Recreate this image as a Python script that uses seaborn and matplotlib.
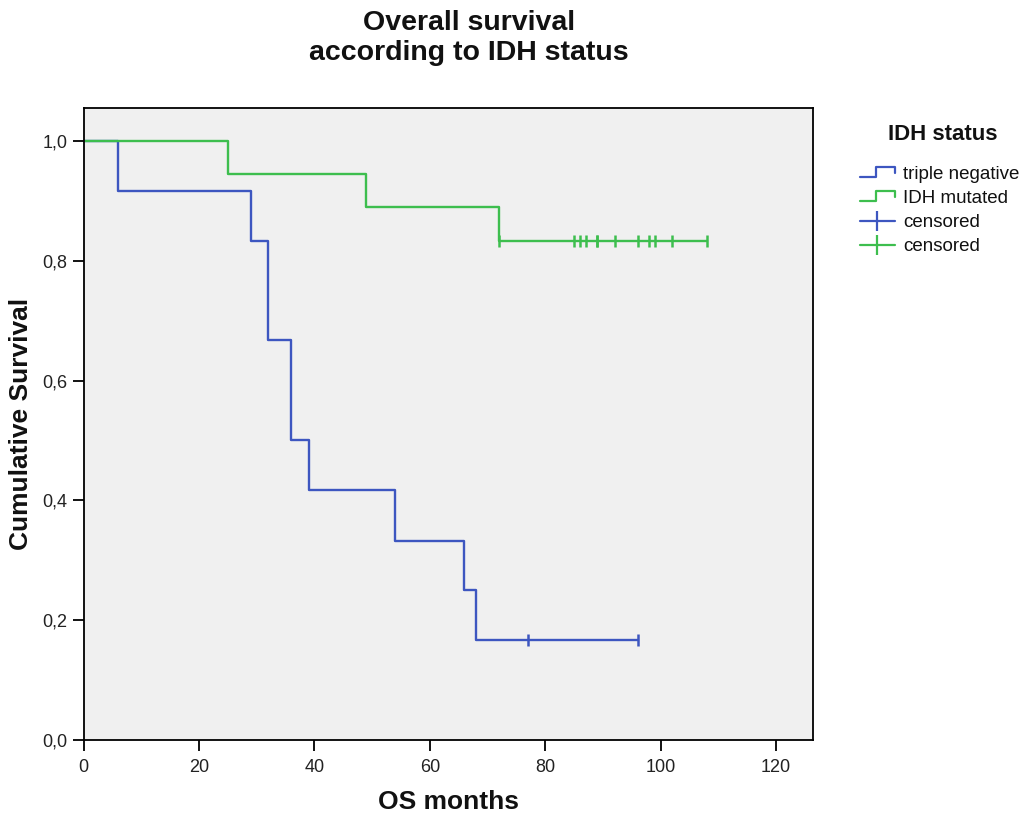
import numpy as np
import pandas as pd
import matplotlib
matplotlib.use("Agg")
import matplotlib.pyplot as plt
import seaborn as sns
from matplotlib.lines import Line2D
from matplotlib.legend_handler import HandlerBase
from matplotlib.ticker import FuncFormatter

# ---- data ----
groups = ["triple negative", "IDH mutated"]
tn_times = [0, 6, 29, 32, 36, 39, 54, 66, 68, 96]
tn_surv = [1.0, 0.917, 0.833, 0.667, 0.5, 0.417, 0.333, 0.25, 0.167, 0.167]
tn_censor = [77, 96]
idh_times = [0, 25, 49, 72, 108]
idh_surv = [1.0, 0.944, 0.889, 0.833, 0.833]
idh_censor = [72, 85, 86, 87, 89, 89, 92, 96, 98, 99, 102, 108]
x_ticks = [0, 20, 40, 60, 80, 100, 120]
y_ticks = [0.0, 0.2, 0.4, 0.6, 0.8, 1.0]

colors = {"triple negative": "#3D56C0", "IDH mutated": "#3DBE4E"}

sns.set_theme(style="white")
plt.rcParams["font.family"] = ["Liberation Sans", "DejaVu Sans"]

steps = pd.concat([
    pd.DataFrame({"time": tn_times, "surv": tn_surv, "group": groups[0]}),
    pd.DataFrame({"time": idh_times, "surv": idh_surv, "group": groups[1]}),
], ignore_index=True)


def surv_at(times, surv, t):
    idx = np.searchsorted(times, t, side="right") - 1
    return np.asarray(surv)[idx]


cens = pd.concat([
    pd.DataFrame({"time": tn_censor, "surv": surv_at(tn_times, tn_surv, tn_censor), "group": groups[0]}),
    pd.DataFrame({"time": idh_censor, "surv": surv_at(idh_times, idh_surv, idh_censor), "group": groups[1]}),
], ignore_index=True)

fig = plt.figure(figsize=(10.24, 8.19), dpi=100)
ax = fig.add_axes([83.5 / 1024, 1 - 740 / 819, (812.5 - 83.5) / 1024, (740 - 108) / 819])
ax.set_facecolor("#F0F0F0")

for g in groups:
    sub = steps[steps.group == g]
    sns.lineplot(data=sub, x="time", y="surv", ax=ax, color=colors[g], lw=1.7,
                 drawstyle="steps-post", estimator=None, sort=False, legend=False)
    csub = cens[cens.group == g]
    sns.scatterplot(data=csub, x="time", y="surv", ax=ax, color=colors[g], marker="|",
                    s=80, linewidth=1.8, legend=False, zorder=3)

ax.set_xlim(0, 126.3)
ax.set_ylim(0, 1.055)
ax.set_xticks(x_ticks)
ax.set_yticks(y_ticks)
fmt = FuncFormatter(lambda v, p: f"{v:.1f}".replace(".", ","))
ax.yaxis.set_major_formatter(fmt)
ax.tick_params(axis="both", which="major", direction="out", length=8, width=1.3,
               color="black", labelsize=13, pad=3.5, left=True, bottom=True, labelcolor="#222222")
ax.tick_params(axis="x", pad=5.5)
for sp in ax.spines.values():
    sp.set_color("black")
    sp.set_linewidth(1.3)

ax.set_xlabel("OS months", fontsize=19, fontweight="bold", labelpad=10, color="#111111")
ax.set_ylabel("Cumulative Survival", fontsize=19, fontweight="bold", labelpad=7, color="#111111")

fig.text(469 / 1024, 1 - 38 / 819, "Overall survival\naccording to IDH status", ha="center",
         va="center", fontsize=20.5, fontweight="bold", linespacing=1.17, color="#111111")


class StepHandler(HandlerBase):
    def create_artists(self, legend, orig_handle, xdescent, ydescent, width, height, fontsize, trans):
        x0 = -xdescent
        y0 = -ydescent
        xs = [x0, x0 + width * 0.45, x0 + width * 0.45, x0 + width, x0 + width]
        ys = [y0 + height * 0.15, y0 + height * 0.15, y0 + height * 0.9, y0 + height * 0.9, y0 + height * 0.45]
        ln = Line2D(xs, ys, color=orig_handle.get_color(), lw=1.6)
        ln.set_transform(trans)
        return [ln]


h_tn = Line2D([], [], color=colors[groups[0]])
h_idh = Line2D([], [], color=colors[groups[1]])
h_c1 = Line2D([], [], color=colors[groups[0]], marker="|", markersize=14, mew=1.6, lw=1.6)
h_c2 = Line2D([], [], color=colors[groups[1]], marker="|", markersize=14, mew=1.6, lw=1.6)

fig.text(943 / 1024, 1 - 134 / 819, "IDH status", ha="center", va="center",
         fontsize=16, fontweight="bold", color="#111111")

leg = fig.legend([h_tn, h_idh, h_c1, h_c2], ["triple negative", "IDH mutated", "censored", "censored"],
                 handler_map={h_tn: StepHandler(), h_idh: StepHandler()},
                 loc="upper left", bbox_to_anchor=(860 / 1024, 1 - 166 / 819), frameon=False,
                 fontsize=13.5, handlelength=1.85, handletextpad=0.45, labelspacing=0.37,
                 borderaxespad=0, borderpad=0)
for t in leg.get_texts():
    t.set_color("#111111")

fig.savefig("out.png", dpi=100, facecolor="white")
